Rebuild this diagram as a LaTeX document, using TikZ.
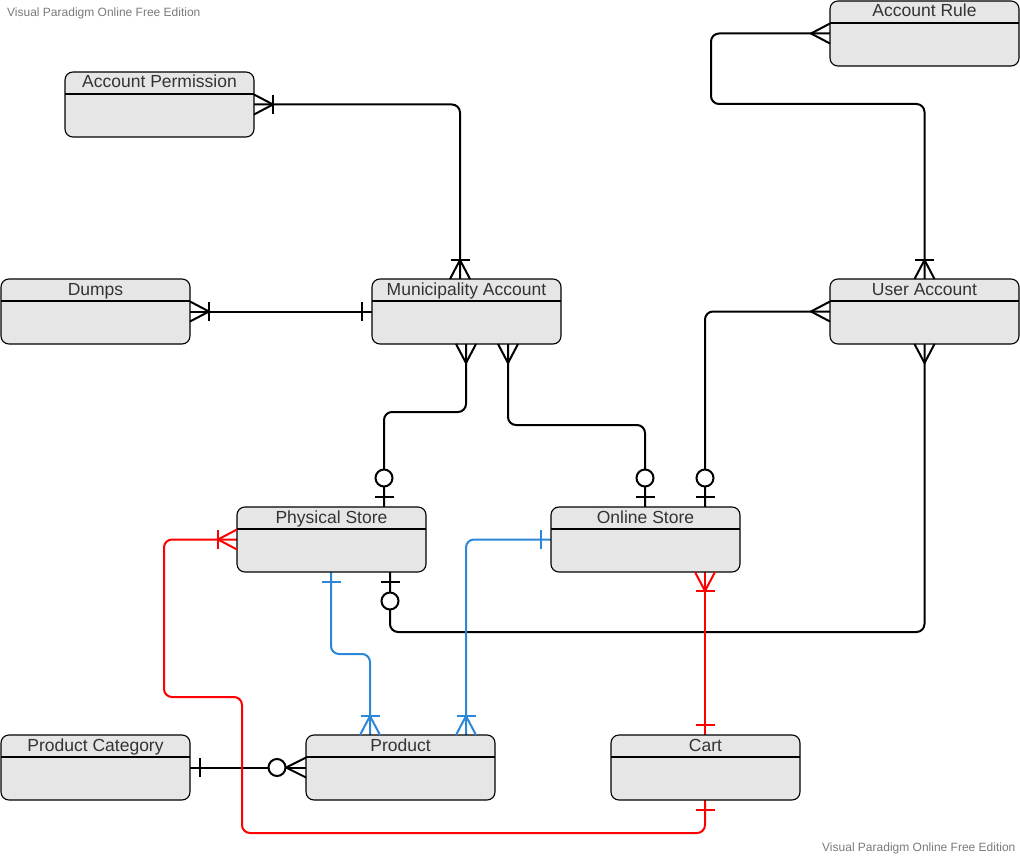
\documentclass[tikz,border=0pt]{standalone}
\usepackage{fontspec}
\setmainfont{Liberation Sans}
\usetikzlibrary{calc,backgrounds}
\definecolor{entfill}{HTML}{E6E6E6}
\definecolor{txt}{HTML}{333333}
\definecolor{wm}{HTML}{7A7A7A}
\definecolor{erred}{HTML}{FF0000}
\definecolor{erblue}{HTML}{2B88D8}

\tikzset{
 ent/.style={draw=black, fill=entfill, rounded corners=8pt, line width=1.1pt, minimum width=189pt, minimum height=65pt, inner sep=0pt, outer sep=0pt, anchor=north west},
 ttl/.style={anchor=base, text=txt, font=\fontsize{17.5}{20}\selectfont, inner sep=0pt},
 hdr/.style={line width=1.1pt},
 conn/.style={line width=2pt, rounded corners=8pt},
 mk/.style={line width=2pt},
 wmk/.style={text=wm, font=\fontsize{12}{14}\selectfont, inner sep=0pt, anchor=base west},
}

\newcommand\entity[4]{%
 \node[ent] (#1) at (#2,#3) {};
 \draw[hdr] ($(#1.north west)+(0,22)$) -- ($(#1.north east)+(0,22)$);
 \node[ttl] (#1-title) at ($(#1.north)+(0,16)$) {#4};
}
\newcommand\erCrow[3][black]{\begin{scope}[shift={(#2)},rotate=#3]\draw[mk,#1] (0,10)--(19,0)--(0,-10);\end{scope}}
\newcommand\erCrowZ[3][black]{\begin{scope}[shift={(#2)},rotate=#3]\draw[mk,#1] (0,10)--(20,0)--(0,-10);\end{scope}}
\newcommand\erBarNear[3][black]{\begin{scope}[shift={(#2)},rotate=#3]\draw[mk,#1] (10,-9.5)--(10,9.5);\end{scope}}
\newcommand\erBarFar[3][black]{\begin{scope}[shift={(#2)},rotate=#3]\draw[mk,#1] (19,-9.5)--(19,9.5);\end{scope}}
\newcommand\erCirc[3][black]{\begin{scope}[shift={(#2)},rotate=#3]\draw[mk,#1,fill=white] (29,0) circle[radius=8.5pt];\end{scope}}
\newcommand\erOneMany[3][black]{\erCrow[#1]{#2}{#3}\erBarFar[#1]{#2}{#3}}
\newcommand\erMany[3][black]{\erCrow[#1]{#2}{#3}}
\newcommand\erOne[3][black]{\erBarNear[#1]{#2}{#3}}
\newcommand\erZeroOne[3][black]{\erBarNear[#1]{#2}{#3}\erCirc[#1]{#2}{#3}}
\newcommand\erZeroMany[3][black]{\erCrowZ[#1]{#2}{#3}\erCirc[#1]{#2}{#3}}

\begin{document}
\begin{tikzpicture}[x=1pt,y=-1pt]
\useasboundingbox (0,0) rectangle (1020,856);

% watermarks
\node[wmk] (wm1) at (7,16.5) {Visual Paradigm Online Free Edition};
\node[wmk] (wm2) at (822,851) {Visual Paradigm Online Free Edition};

% entities
\entity{ap}{65}{72}{Account Permission}
\entity{ar}{830}{1}{Account Rule}
\entity{du}{1}{279}{Dumps}
\entity{ma}{372}{279}{Municipality Account}
\entity{ua}{830}{279}{User Account}
\entity{ps}{237}{507}{Physical Store}
\entity{os}{551}{507}{Online Store}
\entity{pc}{1}{735}{Product Category}
\entity{pr}{306}{735}{Product}
\entity{ca}{611}{735}{Cart}

% attachment points
\coordinate (ma-t) at ($(ma.north west)+(88,0)$);
\coordinate (ma-b1) at ($(ma.south west)+(94,0)$);
\coordinate (ma-b2) at ($(ma.south west)+(136,0)$);
\coordinate (ps-t) at ($(ps.north west)+(147,0)$);
\coordinate (ps-b1) at ($(ps.south west)+(94,0)$);
\coordinate (ps-b2) at ($(ps.south west)+(153,0)$);
\coordinate (os-t1) at ($(os.north west)+(94,0)$);
\coordinate (os-t2) at ($(os.north west)+(154,0)$);
\coordinate (os-b) at ($(os.south west)+(154,0)$);
\coordinate (ca-t) at (os-b |- ca.north);
\coordinate (ca-b) at (os-b |- ca.south);
\coordinate (pr-t1) at ($(pr.north west)+(64,0)$);
\coordinate (pr-t2) at ($(pr.north west)+(160,0)$);
\coordinate (k5) at (711,104);
\coordinate (k8a) at (164,697);
\coordinate (k8b) at (242,833);

% connectors behind the entities
\begin{pgfonlayer}{background}
\draw[conn] (ap.east) -| (ma-t);
\draw[conn] (du.east) -- (ma.west);
\draw[conn] (ma-b1) -- ++(0,68) -| (ps-t);
\draw[conn] (ma-b2) -- ++(0,81) -| (os-t1);
\draw[conn] (ua.north) |- (k5) |- (ar.west);
\draw[conn] (ua.west) -| (os-t2);
\draw[conn] (ua.south) -- ++(0,288) -| (ps-b2);
\draw[conn] (pc.east) -- (pr.west);
\draw[conn,erred] (ps.west) -| (k8a) -| (k8b) -| (ca-b);
\draw[conn,erred] (os-b) -- (ca-t);
\draw[conn,erblue] (ps-b1) -- ++(0,82) -| (pr-t1);
\draw[conn,erblue] (os.west) -| (pr-t2);
\end{pgfonlayer}

% markers
\erOneMany{ap.east}{0}
\erOneMany{ma-t}{90}
\erOneMany{du.east}{0}
\erOne{ma.west}{180}
\erMany{ma-b1}{270}
\erZeroOne{ps-t}{90}
\erMany{ma-b2}{270}
\erZeroOne{os-t1}{90}
\erOneMany{ua.north}{90}
\erMany{ar.west}{180}
\erMany{ua.west}{180}
\erZeroOne{os-t2}{90}
\erMany{ua.south}{270}
\erZeroOne{ps-b2}{270}
\erOneMany[erred]{ps.west}{180}
\erOne[erred]{ca-b}{270}
\erOneMany[erred]{os-b}{270}
\erOne[erred]{ca-t}{90}
\erOne[erblue]{ps-b1}{270}
\erOneMany[erblue]{pr-t1}{90}
\erOne[erblue]{os.west}{180}
\erOneMany[erblue]{pr-t2}{90}
\erOne{pc.east}{0}
\erZeroMany{pr.west}{180}
\end{tikzpicture}
\end{document}
